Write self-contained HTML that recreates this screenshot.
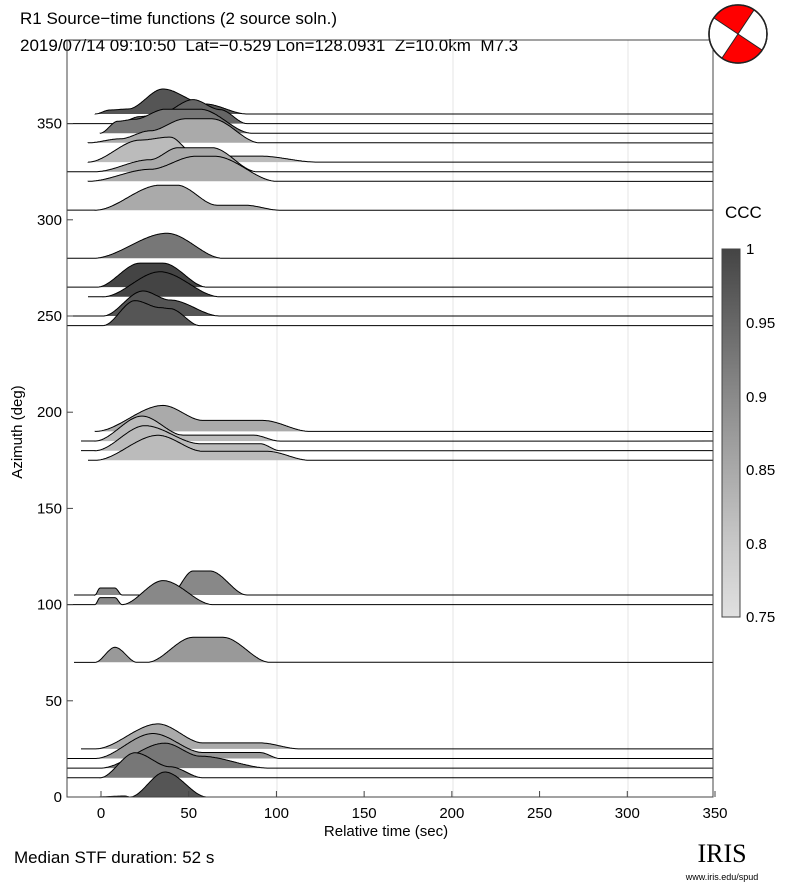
<!DOCTYPE html>
<html><head><meta charset="utf-8"><style>
body{margin:0;background:#fff;}
svg{display:block;font-family:"Liberation Sans",sans-serif;}
</style></head><body>
<svg id="s" width="787" height="887" viewBox="0 0 787 887" xmlns="http://www.w3.org/2000/svg">
<rect width="787" height="887" fill="#fff"/>
<text x="20" y="24" font-size="17">R1 Source−time functions (2 source soln.)</text>
<text x="20" y="51" font-size="17" style="white-space:pre">2019/07/14 09:10:50  Lat=−0.529 Lon=128.0931  Z=10.0km  M7.3</text>
<g id="grid" stroke="#e6e6e6" stroke-width="1">
<line x1="277" y1="40" x2="277" y2="797"/><line x1="453" y1="40" x2="453" y2="797"/><line x1="628" y1="40" x2="628" y2="797"/>
</g>
<g id="tr"></g>
<rect x="67" y="40" width="646" height="757" fill="none" stroke="#444" stroke-width="1"/>
<g font-size="15" text-anchor="end" id="yt"></g>
<g font-size="15" text-anchor="middle" id="xt"></g>
<text x="386" y="836" font-size="15" text-anchor="middle">Relative time (sec)</text>
<text transform="translate(22,432) rotate(-90)" font-size="15" text-anchor="middle">Azimuth (deg)</text>
<text x="14" y="863" font-size="17">Median STF duration: 52 s</text>
<text x="725" y="218" font-size="17">CCC</text>
<defs><linearGradient id="cb" x1="0" y1="0" x2="0" y2="1">
<stop offset="0" stop-color="#444"/><stop offset="0.4" stop-color="#8a8a8a"/><stop offset="0.8" stop-color="#c8c8c8"/><stop offset="1" stop-color="#e0e0e0"/></linearGradient></defs>
<rect x="722" y="249" width="18" height="368" fill="url(#cb)" stroke="#444"/>
<g font-size="15" id="ct"></g>
<g transform="translate(738,34)">
<circle r="29" fill="#fff" stroke="#222" stroke-width="1.5"/>
<path d="M0,0 L-24,-16 A29,29 0 0 1 16,-24 Z" fill="#f00"/>
<path d="M0,0 L24,16 A29,29 0 0 1 -16,24 Z" fill="#f00"/>
<line x1="-24" y1="-16" x2="24" y2="16" stroke="#222"/><line x1="16" y1="-24" x2="-16" y2="24" stroke="#222"/>
<circle r="29" fill="none" stroke="#222" stroke-width="1.5"/>
</g>
<text x="722" y="862" font-size="26" font-family="Liberation Serif,serif" text-anchor="middle">IRIS</text>
<text x="722" y="880" font-size="9" text-anchor="middle">www.iris.edu/spud</text>
</svg>
<script>
const NS="http://www.w3.org/2000/svg";
function el(t,a,p,txt){const e=document.createElementNS(NS,t);for(const k in a)e.setAttribute(k,a[k]);if(txt!=null)e.textContent=txt;p.appendChild(e);return e;}
const yt=document.getElementById('yt'),xt=document.getElementById('xt'),ct=document.getElementById('ct');
for(let a=0;a<=350;a+=50){const y=797-a*1.924;el('text',{x:62,y:y+5},yt,a);el('line',{x1:67,y1:y,x2:73,y2:y,stroke:'#444'},document.getElementById('s'));}
for(let t=0;t<=350;t+=50){const x=101+t*1.7543;el('text',{x:x,y:818},xt,t);el('line',{x1:x,y1:797,x2:x,y2:791,stroke:'#444'},document.getElementById('s'));}
[['1',249],['0.95',323],['0.9',397],['0.85',470],['0.8',544],['0.75',617]].forEach(([l,y])=>el('text',{x:746,y:y+5},ct,l));
const T=[
[355,95,[[95,0],[110,4],[128,5],[163,25],[205,10],[247,0]],'#555'],
[350,67,[[117,0],[140,7],[160,10],[193,24],[220,14],[247,0]],'#666'],
[345,100,[[100,0],[118,12],[135,14],[165,24],[200,24],[252,0]],'#777'],
[340,88,[[88,0],[120,4],[150,12],[185,24],[212,24],[260,0]],'#aaa'],
[330,88,[[88,0],[140,22],[170,25],[195,8],[230,6],[260,6],[317,0]],'#bbb'],
[325,67,[[95,0],[150,12],[178,24],[212,24],[257,0]],'#aaa'],
[320,88,[[88,0],[150,12],[195,25],[215,25],[277,0]],'#aaa'],
[305,67,[[95,0],[160,25],[177,25],[217,5],[245,5],[280,0]],'#aaa'],
[280,67,[[93,0],[167,25],[223,0]],'#777'],
[265,67,[[97,0],[140,24],[163,24],[207,0]],'#444'],
[260,88,[[103,0],[160,25],[220,0]],'#444'],
[250,67,[[103,0],[143,25],[170,16],[220,0]],'#555'],
[245,67,[[103,0],[135,25],[160,18],[170,17],[200,0]],'#555'],
[190,95,[[95,0],[163,26],[203,11],[263,11],[310,0]],'#aaa'],
[185,81,[[95,0],[142,25],[183,6],[253,6],[280,0]],'#bbb'],
[180,81,[[95,0],[145,25],[200,7],[260,7],[280,0]],'#bbb'],
[175,88,[[95,0],[158,25],[203,9],[267,9],[310,0]],'#bbb'],
[105,74,[[95,0],[100,7],[115,7],[122,0],[170,0],[193,24],[210,24],[247,0]],'#888'],
[100,67,[[95,0],[100,7],[115,7],[122,0],[163,24],[213,0]],'#888'],
[70,74,[[95,0],[115,15],[137,0],[147,0],[193,25],[223,25],[270,0]],'#999'],
[25,81,[[95,0],[158,25],[203,6],[260,6],[300,0]],'#aaa'],
[20,67,[[95,0],[153,25],[203,6],[260,6],[280,0]],'#999'],
[15,67,[[100,0],[165,25],[200,12],[270,0]],'#777'],
[10,67,[[100,0],[135,25],[170,11],[203,0]],'#777'],
[0,95,[[95,0],[125,1],[130,0],[165,25],[207,0]],'#555']];
const g=document.getElementById('tr');
T.forEach(([a,x0,k,c])=>{const y=797-a*1.924;let pts=[];
for(let i=0;i<k.length-1;i++){const [xa,ha]=k[i],[xb,hb]=k[i+1];const n=Math.max(2,Math.round(xb-xa));
for(let j=0;j<n;j++){const u=j/n,s=u*u*(3-2*u);pts.push([xa+(xb-xa)*u,y-(ha+(hb-ha)*s)]);}}
pts.push([k[k.length-1][0],y]);
const d='M'+pts.map(p=>p[0].toFixed(1)+','+p[1].toFixed(1)).join('L');
el('path',{d:d+'Z',fill:c},g);
el('path',{d:'M'+x0+','+y+'L'+k[0][0]+','+y+d.replace('M','L')+'L713,'+y,fill:'none',stroke:'#000','stroke-width':1},g);});
</script>
</body></html>
